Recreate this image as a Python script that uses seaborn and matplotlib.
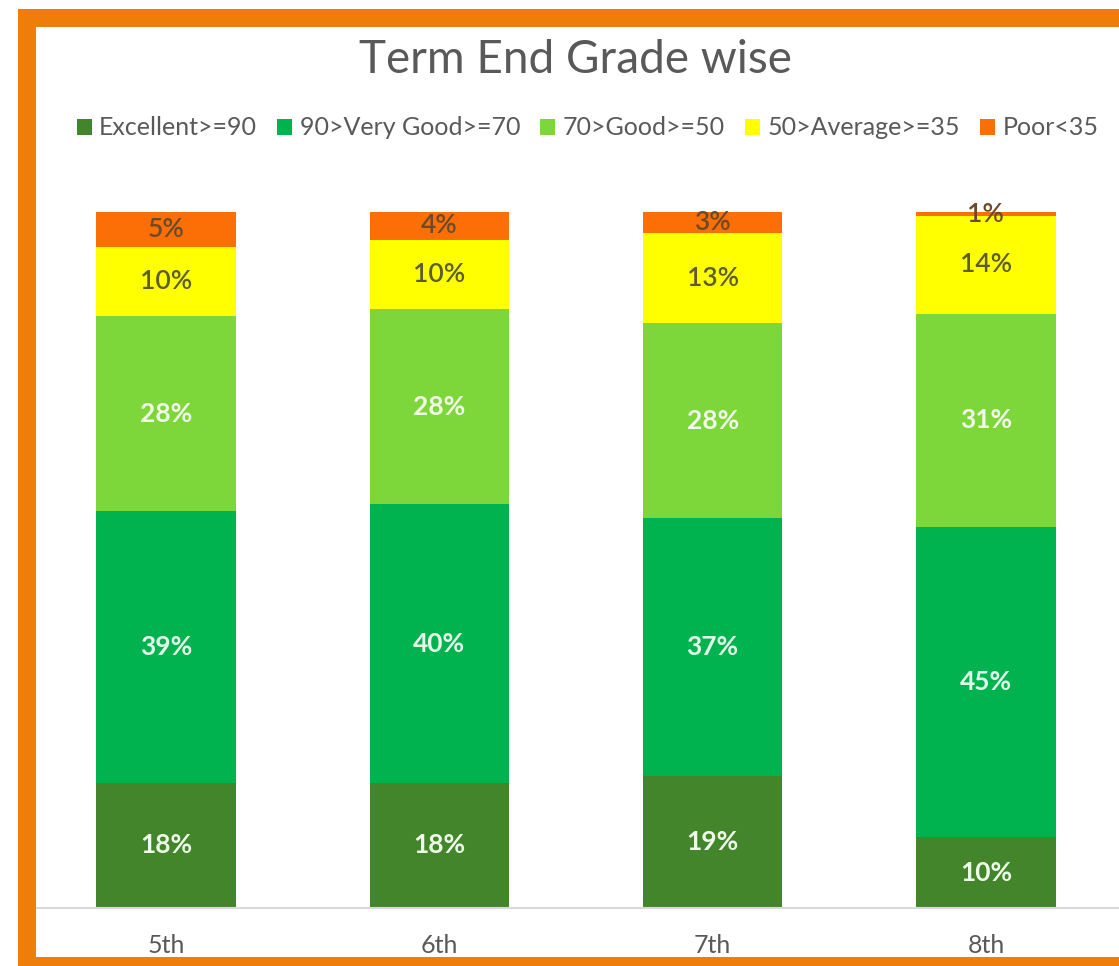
import matplotlib
matplotlib.use('Agg')
import matplotlib.pyplot as plt
from matplotlib.patches import Rectangle
import seaborn as sns
import numpy as np

grades = ['5th', '6th', '7th', '8th']
series = ['Excellent>=90', '90>Very Good>=70', '70>Good>=50', '50>Average>=35', 'Poor<35']
excellent = [18, 18, 19, 10.2]
very_good = [39, 40, 37, 44.6]
good = [28, 28, 28, 30.6]
average = [10, 10, 13, 14.0]
poor = [5, 4, 3, 0.6]

colors = ['#43852b', '#00b34f', '#7dd63a', '#ffff00', '#fb6f06']
label_colors = ['#eefbe9', '#e4fbe9', '#f2fbe9', '#5c5c2e', '#6b4a2a']

sns.set_theme(style='white')
plt.rcParams['font.family'] = ['Lato', 'DejaVu Sans']

fig = plt.figure(figsize=(11.19, 9.66), dpi=100)
ax = fig.add_axes([36 / 1119, 1 - 908 / 966, 1 - 36 / 1119, (908 - 212) / 966])

values = [excellent, very_good, good, average, poor]
bottom = np.zeros(len(grades))
for k, (name, vals, col, lc) in enumerate(zip(series, values, colors, label_colors)):
    sns.barplot(x=grades, y=vals, bottom=bottom, color=col, width=0.51,
                label=name, ax=ax, saturation=1, linewidth=0)
    for i, v in enumerate(vals):
        weight = 'bold' if k < 3 else 'semibold'
        ax.text(i, bottom[i] + v / 2, f'{v:.0f}%', ha='center', va='center',
                fontsize=19, color=lc, fontweight=weight)
    bottom += np.array(vals)

ax.set_xlim(-0.476, 3.487)
ax.set_ylim(0, 100)
ax.set_yticks([])
ax.set_ylabel('')
for s in ['top', 'right', 'left']:
    ax.spines[s].set_visible(False)
ax.spines['bottom'].set_color('#d9d9d9')
ax.spines['bottom'].set_linewidth(1.5)
ax.tick_params(axis='x', length=0, pad=19, labelsize=18, labelcolor='#595959')

handles, labels = ax.get_legend_handles_labels()
fig.legend(handles, labels, loc='center', bbox_to_anchor=(0.525, 0.8675), ncol=5,
           frameon=False, fontsize=18, labelcolor='#595959', handlelength=0.6,
           handleheight=0.6, handletextpad=0.3, columnspacing=0.8)
if ax.get_legend():
    ax.get_legend().remove()

fig.text(0.514, 0.938, 'Term End Grade wise', ha='center', va='center',
         fontsize=33, color='#595959')

# orange frame around the chart
orange = '#ee7d0a'
fig.add_artist(Rectangle((18 / 1119, 1 - 27 / 966), 1, 18 / 966, transform=fig.transFigure,
                         facecolor=orange, linewidth=0, zorder=10))
fig.add_artist(Rectangle((18 / 1119, 0), 18 / 1119, 1 - 9 / 966, transform=fig.transFigure,
                         facecolor=orange, linewidth=0, zorder=10))
fig.add_artist(Rectangle((18 / 1119, 0), 1, 9 / 966, transform=fig.transFigure,
                         facecolor=orange, linewidth=0, zorder=10))

fig.savefig('out.png', dpi=100)
